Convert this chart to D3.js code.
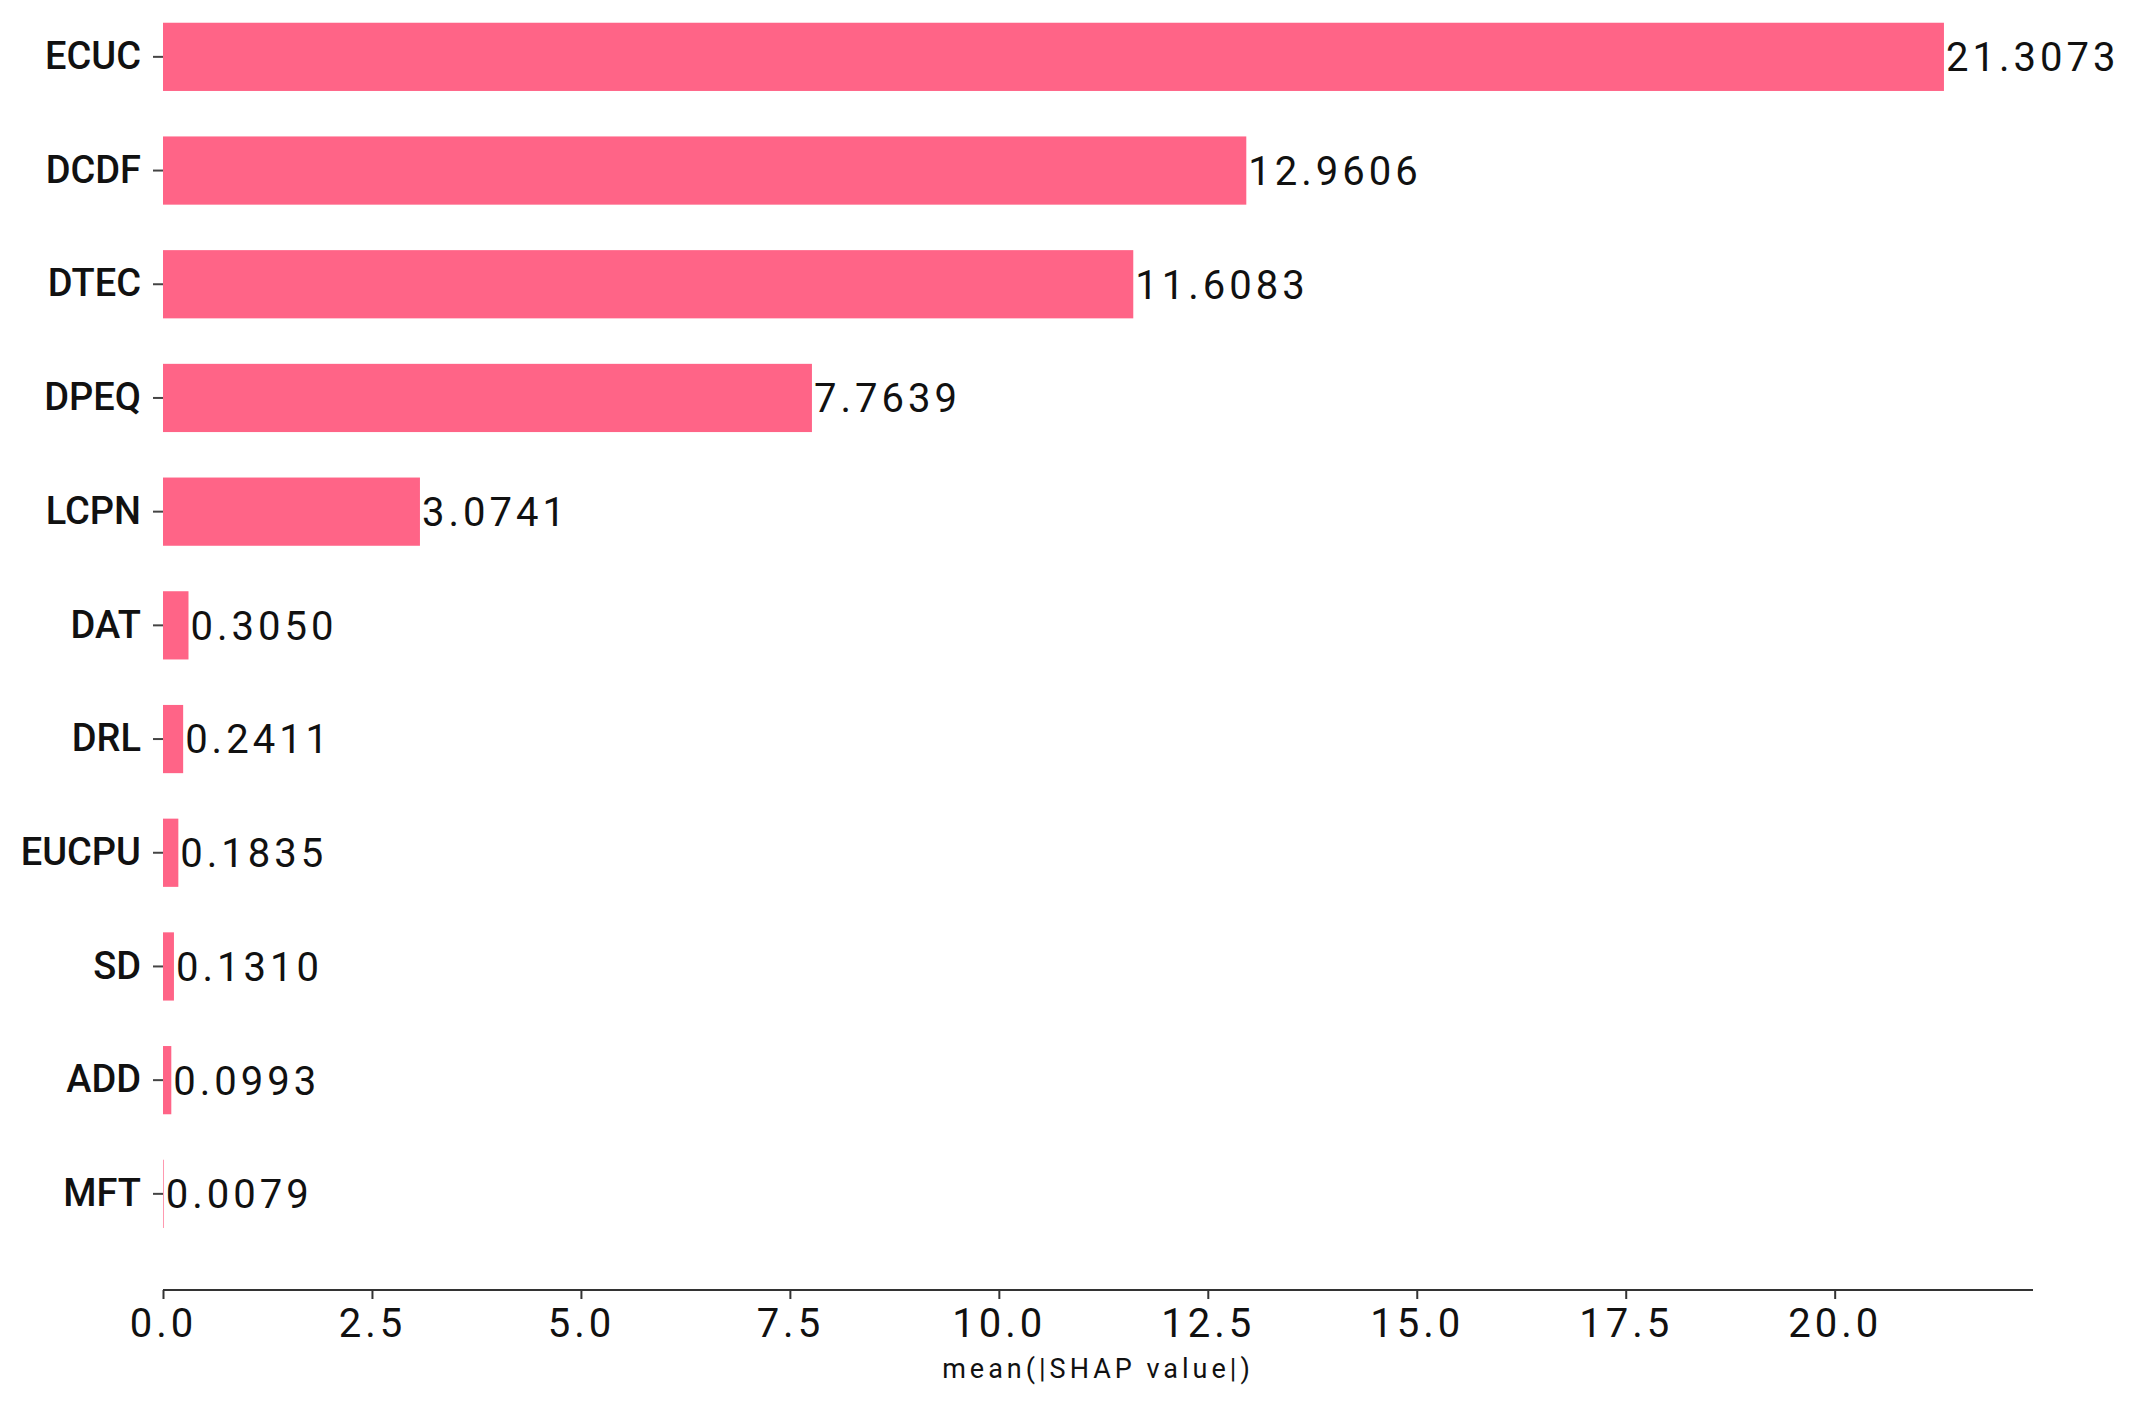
<!DOCTYPE html>
<html>
<head>
<meta charset="utf-8">
<script src="https://cdn.jsdelivr.net/npm/d3@7"></script>
<style>
  body { margin: 0; background: #fff; }
  text { font-family: Roboto, "Liberation Sans", Arial, sans-serif; fill: #111; }
</style>
</head>
<body>
<div class="box"></div>
<script>
// features, top to bottom
const features = ['ECUC', 'DCDF', 'DTEC', 'DPEQ', 'LCPN', 'DAT', 'DRL', 'EUCPU', 'SD', 'ADD', 'MFT']
const meanShap = [21.3073, 12.9606, 11.6083, 7.7639, 3.0741, 0.3050, 0.2411, 0.1835, 0.1310, 0.0993, 0.0079]
const xTicks = [0, 2.5, 5, 7.5, 10, 12.5, 15, 17.5, 20]
const xLabel = 'mean(|SHAP value|)'

const W = 2129, H = 1406
const marginLeft = 163, marginRight = 2033
const plotTop = 0, axisY = 1290
const fontFam = 'Roboto, "Liberation Sans", Arial, sans-serif'

let svg = d3.select('.box')
    .append('svg')
    .attr('width', W)
    .attr('height', H)

let x = d3.scaleLinear()
    .domain([0, d3.max(meanShap) * 1.05])
    .range([marginLeft, marginRight])

let y = d3.scaleBand()
    .domain(features)
    .range([plotTop, plotTop + 113.7 * features.length])
    .paddingInner(0.4)
    .paddingOuter(0.2)

// bars
svg.append('g')
    .selectAll('rect')
    .data(features)
    .join('rect')
    .attr('x', x(0))
    .attr('y', d => y(d))
    .attr('width', (d, i) => x(meanShap[i]) - x(0))
    .attr('height', y.bandwidth())
    .attr('fill', '#ff6487')

// value labels
svg.append('g')
    .selectAll('text')
    .data(features)
    .join('text')
    .attr('x', (d, i) => x(meanShap[i]) + 2)
    .attr('y', d => y(d) + y.bandwidth() / 2)
    .attr('dy', '0.36em')
    .style('font-size', '40px')
    .style('letter-spacing', '4px')
    .text((d, i) => meanShap[i].toFixed(4))

// y axis, no spine
let yAxis = svg.append('g')
    .attr('transform', `translate(${marginLeft},0)`)
    .call(d3.axisLeft(y).tickSize(10).tickPadding(12))
yAxis.select('.domain').remove()
yAxis.selectAll('line').attr('stroke', '#444').attr('stroke-width', 2)
yAxis.selectAll('text')
    .style('font-size', '38px')
    .style('font-weight', '500')
    .style('font-family', fontFam)
    .attr('fill', '#111')

// x axis
let xAxis = svg.append('g')
    .attr('transform', `translate(0,${axisY})`)
    .call(d3.axisBottom(x).tickValues(xTicks).tickSize(9).tickPadding(10)
        .tickFormat(d3.format('.1f')))
xAxis.select('.domain').attr('stroke', '#333').attr('stroke-width', 2.2)
    .attr('d', `M${marginLeft},0H${marginRight}`)
xAxis.selectAll('line').attr('stroke', '#333').attr('stroke-width', 2)
xAxis.selectAll('text')
    .style('font-size', '40px')
    .style('letter-spacing', '4px')
    .style('font-family', fontFam)
    .attr('fill', '#111')

svg.append('text')
    .attr('x', (marginLeft + marginRight) / 2)
    .attr('y', 1378)
    .attr('text-anchor', 'middle')
    .style('font-size', '27px')
    .style('letter-spacing', '4px')
    .text(xLabel)
</script>
</body>
</html>
